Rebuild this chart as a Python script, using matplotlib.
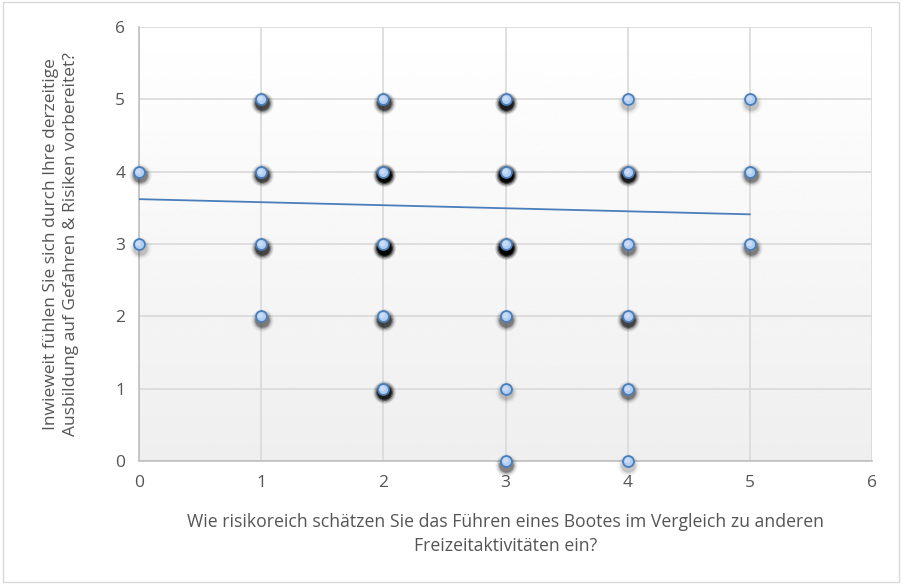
import numpy as np
import matplotlib.pyplot as plt
from matplotlib.patches import Rectangle

# Responses (x answer, y answer) and how many respondents share the pair
risk_x = [0, 0, 1, 1, 1, 1, 2, 2, 2, 2, 2, 3, 3, 3, 3, 3, 3, 4, 4, 4, 4, 4, 4, 5, 5, 5]
prep_y = [4, 3, 5, 4, 3, 2, 5, 4, 3, 2, 1, 5, 4, 3, 2, 1, 0, 5, 4, 3, 2, 1, 0, 5, 4, 3]
counts = [2, 1, 3, 3, 3, 2, 3, 5, 5, 3, 4, 4, 6, 6, 2, 1, 2, 1, 4, 2, 3, 2, 1, 1, 2, 2]

# linear trendline end points
trend_x = [0, 5]
trend_y = [3.62, 3.41]

x_ticks = [0, 1, 2, 3, 4, 5, 6]
y_ticks = [0, 1, 2, 3, 4, 5, 6]
xlabel = "Wie risikoreich schätzen Sie das Führen eines Bootes im Vergleich zu anderen\nFreizeitaktivitäten ein?"
ylabel = "Inwieweit fühlen Sie sich durch Ihre derzeitige\nAusbildung auf Gefahren & Risiken vorbereitet?"

plt.rcParams['font.family'] = ['Open Sans', 'DejaVu Sans']
text_col = '#555555'

fig = plt.figure(figsize=(9.04, 5.84), dpi=100)
ax = fig.add_axes([0.1538, 0.2106, 0.8108, 0.7432])

# background gradient white (top) -> light gray (bottom)
grad = np.linspace(1.0, 0.935, 256).reshape(-1, 1)
ax.imshow(grad, cmap='gray', vmin=0, vmax=1, aspect='auto', origin='upper',
          extent=[0, 6, 0, 6], zorder=0)

ax.set_xlim(0, 6)
ax.set_ylim(0, 6)
ax.set_xticks(x_ticks)
ax.set_yticks(y_ticks)
ax.grid(True, color='#d9d9d9', lw=1.2, zorder=1)
ax.tick_params(length=0, labelsize=12.5, labelcolor=text_col, pad=10)
for s in ['top', 'right']:
    ax.spines[s].set_visible(False)
for s in ['left', 'bottom']:
    ax.spines[s].set_color('#bfbfbf')
    ax.spines[s].set_linewidth(1.2)

# soft shadows, darker where more respondents overlap
layers = [(260, 0.12), (200, 0.2), (150, 0.35), (110, 0.6)]
for x, y, c in zip(risk_x, prep_y, counts):
    a = min(0.12 * c ** 1.3, 1.0)
    for s, f in layers:
        ax.scatter([x + 0.006], [y - 0.05], s=s, color='black', alpha=min(a * f * 1.6, 1.0),
                   lw=0, zorder=3, clip_on=False)

ax.scatter(risk_x, prep_y, s=62, color='#b0cdf2', edgecolor='#4a7ebb',
           lw=1.3, zorder=4, clip_on=False)
ax.scatter([x - 0.008 for x in risk_x], [y + 0.015 for y in prep_y], s=16,
           color='#cfe0f8', lw=0, alpha=0.8, zorder=4.5, clip_on=False)

ax.plot(trend_x, trend_y, color='#4a7ebb', lw=1.3, zorder=5)

ax.set_xlabel(xlabel, fontsize=12.7, color=text_col, labelpad=16, linespacing=1.45)
ax.set_ylabel(ylabel, fontsize=12.5, color=text_col, labelpad=26, linespacing=1.3)

fig.patches.append(Rectangle((0.003, 0.004), 0.992, 0.992, transform=fig.transFigure,
                             fill=False, edgecolor='#d9d9d9', lw=1.0))

fig.savefig('out.png', dpi=100)
